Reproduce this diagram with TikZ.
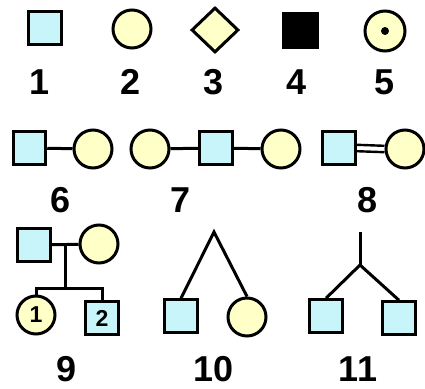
\documentclass[tikz,border=0pt]{standalone}
\usepackage{fontspec}
\setmainfont{Liberation Sans}
\usepackage{xcolor}
\usetikzlibrary{shapes.geometric}
\definecolor{malefill}{RGB}{200,245,250}
\definecolor{femalefill}{RGB}{255,255,200}
\tikzset{
  male/.style={draw, line width=3pt, fill=malefill, rectangle, minimum size=32.5pt, inner sep=0pt},
  female/.style={draw, line width=3pt, fill=femalefill, circle, minimum size=38pt, inner sep=0pt},
  unknown/.style={draw, line width=3pt, fill=femalefill, diamond, minimum width=47pt, minimum height=45pt, inner sep=0pt},
  affected/.style={draw, line width=3pt, fill=black, rectangle, minimum size=34pt, inner sep=0pt},
  num/.style={font=\fontsize{36}{36}\selectfont\bfseries, inner sep=0pt},
  small num/.style={font=\fontsize{23}{23}\selectfont\bfseries, inner sep=0pt},
  link/.style={line width=3pt}
}

\begin{document}
\begin{tikzpicture}[x=1pt, y=-1pt]
  \useasboundingbox (0,0) rectangle (425,388);

  % Single symbols
  \node[male] (s1) at (45, 28) {};
  \node[female] (s2) at (132, 29) {};
  \node[unknown] (s3) at (215, 30) {};
  \node[affected] (s4) at (300, 30) {};
  \node[female, minimum size=40pt] (s5) at (385, 31) {};
  \node[circle, fill=black, minimum size=8pt, inner sep=0pt] (s5dot) at (385, 31) {};
  % Labels
  \node[num] (n1) at (40, 82) {1};
  \node[num] (n2) at (131, 82) {2};
  \node[num] (n3) at (214, 82) {3};
  \node[num] (n4) at (297, 82) {4};
  \node[num] (n5) at (385, 82) {5};

  % Couples
  \node[male] (c6a) at (29.5, 148) {};
  \node[female] (c6b) at (93, 149) {};
  \draw[link] (c6a) -- (c6b);
  \node[female] (c7a) at (150, 149) {};
  \node[male] (c7b) at (216, 148) {};
  \node[female] (c7c) at (281, 149) {};
  \draw[link] (c7a) -- (c7b);
  \draw[link] (c7b) -- (c7c);
  \node[male] (c8a) at (339, 148) {};
  \node[female] (c8b) at (405, 149) {};
  \draw[line width=2.4pt] ([yshift=-3.2pt]c8a.east) -- ([yshift=-3.2pt]c8b.west);
  \draw[line width=2.4pt] ([yshift=3.2pt]c8a.east) -- ([yshift=3.2pt]c8b.west);
  \node[num] (n6) at (61, 200) {6};
  \node[num] (n7) at (181, 200) {7};
  \node[num] (n8) at (368, 200) {8};

  % Family with two children
  \node[male] (p9a) at (34, 245) {};
  \node[female] (p9b) at (99, 244) {};
  \node[female] (k9a) at (36, 315) {};
  \node[male] (k9b) at (102, 318) {};
  \node[small num] (k9alab) at (k9a) {1};
  \node[small num] (k9blab) at (k9b) {2};
  \coordinate (m9) at (65, 244);
  \coordinate (sib9) at (65, 288);
  \draw[link] (p9a) -- (p9b);
  \draw[link] (m9) -- (sib9);
  \draw[link] (k9a.north) |- (sib9) -| (k9b.north);

  % Twins
  \node[male] (t10a) at (181, 316) {};
  \node[female] (t10b) at (247, 317) {};
  \coordinate (top10) at (214, 232);
  \draw[link] (t10a.north) -- (top10) -- (t10b.north);
  \node[male] (t11a) at (326, 316) {};
  \node[male] (t11b) at (399, 318) {};
  \coordinate (top11) at (360, 232);
  \coordinate (fork11) at (360, 265);
  \draw[link] (top11) -- (fork11);
  \draw[link] (t11a.north) -- (fork11) -- (t11b.north);
  \node[num] (n9) at (67, 369) {9};
  \node[num] (n10) at (214, 369) {10};
  \node[num] (n11) at (358, 369) {11};
\end{tikzpicture}
\end{document}
